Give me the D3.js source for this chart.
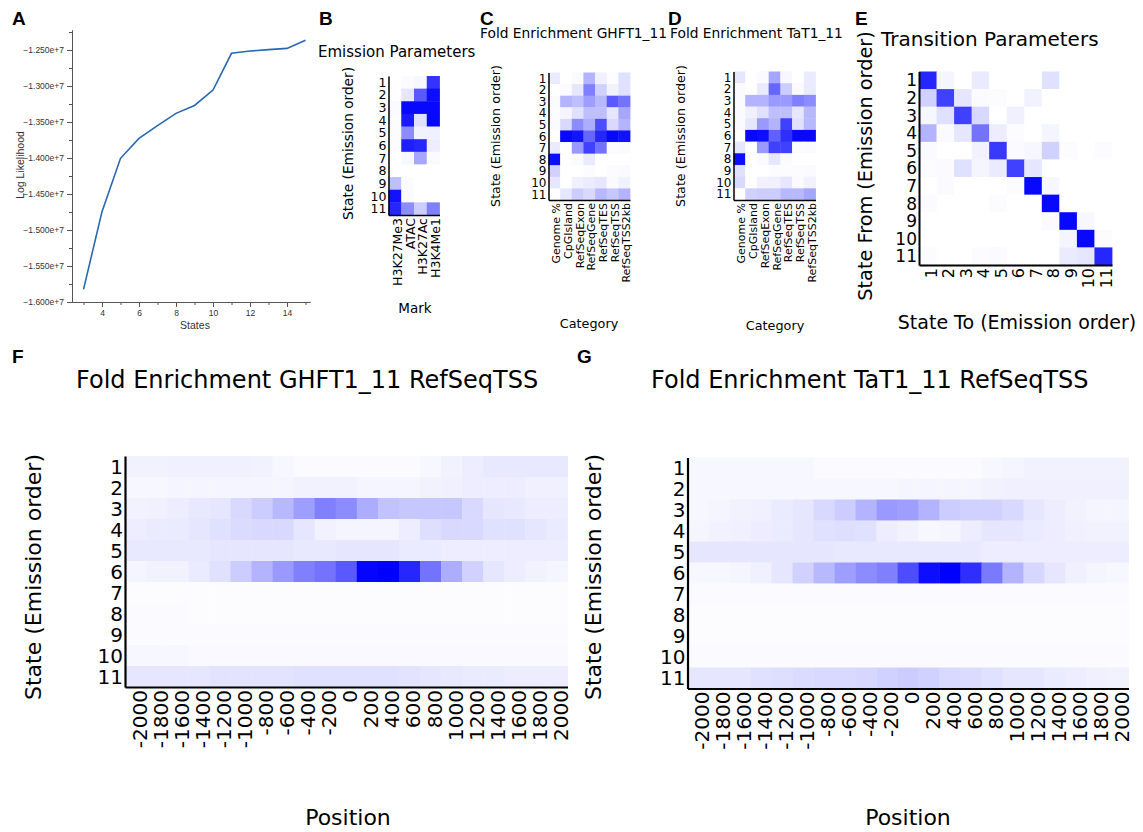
<!DOCTYPE html>
<html><head><meta charset="utf-8">
<script src="https://cdn.jsdelivr.net/npm/d3@7"></script>
<style>body{margin:0;background:#fff} svg{display:block} .hm text{font-family:"DejaVu Sans";fill:#000}</style>
</head><body>
<svg id="c" width="1143" height="832"></svg>
<script>
// ---------- DATA ----------
const llStates = [3,4,5,6,7,8,9,10,11,12,13,14,15];
const llValues = [-1.5824e7,-1.4745e7,-1.4004e7,-1.3727e7,-1.3550e7,-1.3380e7,-1.3270e7,-1.3056e7,-1.2546e7,-1.2514e7,-1.2495e7,-1.2477e7,-1.2365e7];
const llXTicks = [4,6,8,10,12,14];
const llYTicks = [-1.6e7,-1.55e7,-1.5e7,-1.45e7,-1.4e7,-1.35e7,-1.3e7,-1.25e7];

const states = ["1","2","3","4","5","6","7","8","9","10","11"];
const marks = ["H3K27Me3","ATAC","H3K27Ac","H3K4Me1"];
const categories = ["Genome %","CpGIsland","RefSeqExon","RefSeqGene","RefSeqTES","RefSeqTSS","RefSeqTSS2kb"];
const positions = ["-2000","-1800","-1600","-1400","-1200","-1000","-800","-600","-400","-200","0","200","400","600","800","1000","1200","1400","1600","1800","2000"];

const emission = [
 [0.00,0.02,0.03,0.80],
 [0.00,0.10,0.65,0.95],
 [0.02,0.97,0.97,0.97],
 [0.01,0.90,0.12,0.97],
 [0.01,0.45,0.05,0.06],
 [0.01,0.88,0.85,0.07],
 [0.00,0.03,0.35,0.02],
 [0.00,0.00,0.00,0.00],
 [0.25,0.01,0.00,0.00],
 [0.93,0.02,0.00,0.00],
 [0.85,0.45,0.20,0.50]
];
const enrichGHFT = [
 [0.08,0.00,0.02,0.30,0.06,0.01,0.12],
 [0.00,0.02,0.10,0.50,0.18,0.05,0.12],
 [0.02,0.30,0.25,0.38,0.28,0.65,0.55],
 [0.01,0.04,0.12,0.25,0.25,0.10,0.35],
 [0.02,0.15,0.45,0.32,0.70,0.15,0.30],
 [0.00,0.97,0.92,0.60,0.85,0.97,0.93],
 [0.08,0.00,0.40,0.75,0.55,0.01,0.02],
 [0.95,0.00,0.02,0.08,0.00,0.00,0.00],
 [0.18,0.00,0.00,0.01,0.00,0.01,0.02],
 [0.10,0.00,0.06,0.08,0.10,0.02,0.05],
 [0.00,0.10,0.20,0.15,0.28,0.22,0.30]
];
const enrichTaT = [
 [0.10,0.00,0.02,0.35,0.03,0.00,0.08],
 [0.02,0.00,0.08,0.60,0.20,0.02,0.08],
 [0.02,0.30,0.30,0.40,0.40,0.50,0.45],
 [0.02,0.06,0.12,0.25,0.25,0.10,0.28],
 [0.02,0.10,0.40,0.30,0.75,0.12,0.28],
 [0.00,0.97,0.95,0.62,0.82,0.97,0.97],
 [0.10,0.00,0.40,0.75,0.75,0.01,0.02],
 [0.95,0.00,0.02,0.10,0.02,0.00,0.00],
 [0.12,0.00,0.00,0.01,0.01,0.01,0.02],
 [0.15,0.00,0.05,0.06,0.10,0.02,0.05],
 [0.00,0.18,0.20,0.20,0.28,0.28,0.35]
];
const transition = [
 [0.85,0.04,0.00,0.08,0.00,0.00,0.00,0.12,0.00,0.00,0.00],
 [0.18,0.75,0.10,0.02,0.01,0.00,0.05,0.00,0.00,0.00,0.00],
 [0.03,0.12,0.75,0.15,0.00,0.06,0.00,0.00,0.00,0.00,0.00],
 [0.30,0.02,0.10,0.55,0.07,0.01,0.00,0.04,0.00,0.00,0.00],
 [0.02,0.00,0.00,0.05,0.78,0.02,0.03,0.18,0.01,0.00,0.01],
 [0.01,0.02,0.12,0.04,0.08,0.75,0.10,0.00,0.00,0.00,0.00],
 [0.00,0.02,0.00,0.00,0.00,0.01,0.97,0.03,0.00,0.00,0.00],
 [0.02,0.00,0.00,0.00,0.01,0.00,0.00,0.97,0.00,0.00,0.00],
 [0.00,0.00,0.00,0.00,0.00,0.00,0.00,0.02,0.97,0.03,0.00],
 [0.00,0.00,0.00,0.00,0.00,0.00,0.00,0.00,0.04,0.97,0.01],
 [0.01,0.00,0.00,0.01,0.02,0.00,0.00,0.00,0.08,0.10,0.85]
];
const tssGHFT = [
 [0.05,0.05,0.06,0.06,0.06,0.06,0.05,0.03,0.02,0.02,0.02,0.02,0.02,0.02,0.03,0.05,0.07,0.09,0.09,0.09,0.09],
 [0.03,0.03,0.04,0.04,0.04,0.04,0.04,0.04,0.05,0.05,0.05,0.04,0.04,0.04,0.05,0.06,0.07,0.07,0.07,0.06,0.06],
 [0.05,0.06,0.07,0.09,0.10,0.15,0.20,0.28,0.38,0.50,0.45,0.32,0.24,0.22,0.22,0.22,0.15,0.10,0.09,0.07,0.07],
 [0.07,0.08,0.08,0.10,0.12,0.14,0.15,0.15,0.10,0.05,0.04,0.04,0.04,0.07,0.13,0.15,0.15,0.12,0.12,0.10,0.08],
 [0.09,0.09,0.09,0.09,0.10,0.10,0.10,0.10,0.09,0.09,0.10,0.10,0.10,0.08,0.08,0.07,0.07,0.07,0.07,0.07,0.07],
 [0.04,0.05,0.05,0.08,0.12,0.20,0.30,0.40,0.50,0.55,0.65,0.98,1.00,0.85,0.55,0.32,0.18,0.10,0.07,0.05,0.04],
 [0.01,0.01,0.01,0.01,0.01,0.01,0.01,0.01,0.01,0.01,0.01,0.01,0.01,0.01,0.01,0.01,0.01,0.01,0.01,0.01,0.01],
 [0.015,0.015,0.015,0.01,0.01,0.01,0.01,0.01,0.01,0.01,0.01,0.01,0.01,0.01,0.01,0.01,0.01,0.01,0.01,0.01,0.01],
 [0.015,0.015,0.02,0.02,0.02,0.02,0.02,0.02,0.02,0.015,0.015,0.015,0.015,0.015,0.015,0.015,0.015,0.015,0.015,0.015,0.015],
 [0.03,0.03,0.03,0.025,0.025,0.025,0.025,0.025,0.025,0.025,0.025,0.025,0.025,0.025,0.025,0.025,0.025,0.025,0.025,0.025,0.025],
 [0.10,0.10,0.10,0.10,0.11,0.11,0.11,0.11,0.12,0.12,0.12,0.12,0.12,0.11,0.10,0.09,0.08,0.08,0.07,0.07,0.07]
];
const tssTaT = [
 [0.03,0.03,0.03,0.03,0.03,0.03,0.02,0.02,0.02,0.02,0.02,0.02,0.02,0.02,0.03,0.04,0.05,0.05,0.05,0.05,0.05],
 [0.03,0.03,0.03,0.03,0.03,0.03,0.03,0.03,0.03,0.03,0.04,0.04,0.04,0.04,0.05,0.06,0.06,0.06,0.06,0.06,0.06],
 [0.03,0.04,0.05,0.06,0.08,0.10,0.15,0.20,0.30,0.40,0.38,0.30,0.20,0.18,0.18,0.15,0.10,0.07,0.05,0.04,0.04],
 [0.04,0.05,0.06,0.07,0.08,0.10,0.12,0.13,0.12,0.07,0.05,0.03,0.04,0.07,0.10,0.10,0.08,0.07,0.06,0.05,0.05],
 [0.10,0.10,0.10,0.10,0.10,0.10,0.10,0.09,0.09,0.09,0.09,0.09,0.09,0.09,0.07,0.07,0.07,0.07,0.07,0.07,0.07],
 [0.03,0.03,0.04,0.06,0.10,0.18,0.28,0.38,0.45,0.50,0.70,0.95,1.00,0.82,0.52,0.30,0.16,0.10,0.06,0.04,0.03],
 [0.015,0.015,0.015,0.015,0.015,0.015,0.015,0.015,0.015,0.015,0.015,0.015,0.015,0.015,0.015,0.015,0.015,0.015,0.015,0.015,0.015],
 [0.01,0.01,0.01,0.01,0.01,0.01,0.01,0.01,0.01,0.01,0.01,0.01,0.01,0.01,0.01,0.01,0.01,0.01,0.01,0.01,0.01],
 [0.01,0.01,0.01,0.01,0.01,0.01,0.01,0.01,0.01,0.01,0.01,0.01,0.01,0.01,0.01,0.01,0.01,0.01,0.01,0.01,0.01],
 [0.02,0.02,0.02,0.02,0.02,0.02,0.02,0.02,0.02,0.02,0.02,0.02,0.02,0.02,0.02,0.02,0.02,0.02,0.02,0.02,0.02],
 [0.10,0.10,0.10,0.12,0.13,0.14,0.15,0.15,0.16,0.18,0.20,0.18,0.15,0.14,0.12,0.10,0.10,0.08,0.07,0.06,0.05]
];

// ---------- DRAW ----------
const svg = d3.select("#c");
const color = d3.scaleLinear().domain([0,1]).range(["#ffffff","#0000ff"]).clamp(true);

// Panel letters
const letters = [["A",12,25],["B",319,25],["C",480,25],["D",668,25],["E",855,25],["F",12,363],["G",577,363]];
svg.selectAll("text.letter").data(letters).join("text").attr("class","letter")
  .attr("x",d=>d[1]).attr("y",d=>d[2]).text(d=>d[0])
  .style("font-family","'Liberation Sans',Arial,sans-serif").style("font-weight","bold").style("font-size","19px");

// Panel A
(function(){
  const g = svg.append("g");
  const x = d3.scaleLinear().domain([2.378,15.243]).range([72,310]);
  const y = d3.scaleLinear().domain([-1.6e7,-1.2222e7]).range([302,30]);
  const axCol = "#555";
  const xMajor = d3.axisBottom(x).tickValues(llXTicks).tickSize(5).tickSizeOuter(0).tickFormat(d3.format("d"));
  const xMinor = d3.axisBottom(x).tickValues(llStates.filter(s=>s%2===1)).tickSize(3).tickSizeOuter(0).tickFormat("");
  const yMajor = d3.axisLeft(y).tickValues(llYTicks).tickSize(5).tickSizeOuter(0).tickFormat(d3.format(".3e"));
  const yMinorVals = llYTicks.map(v=>v+0.025e7);
  const yMinor = d3.axisLeft(y).tickValues(yMinorVals).tickSize(3).tickSizeOuter(0).tickFormat("");
  [[xMinor,"x"],[xMajor,"x"],[yMinor,"y"],[yMajor,"y"]].forEach(([ax,t])=>{
    const a = g.append("g").attr("transform", t==="x"?"translate(0,302)":"translate(72,0)").call(ax);
    a.selectAll("path,line").attr("stroke",axCol);
    a.selectAll("text").style("font-family","'Liberation Sans',Arial,sans-serif").style("font-size","8.5px").attr("fill","#333");
  });
  g.append("path").datum(llStates.map((s,i)=>[s,llValues[i]]))
    .attr("fill","none").attr("stroke","#2a67b1").attr("stroke-width",1.6)
    .attr("d", d3.line().x(d=>x(d[0])).y(d=>y(d[1])));
  g.append("text").attr("transform","translate(24,165) rotate(-90)").attr("text-anchor","middle")
    .style("font-family","'Liberation Sans',Arial,sans-serif").style("font-size","10.5px").attr("fill","#333").text("Log Likelihood");
  g.append("text").attr("x",195).attr("y",329).attr("text-anchor","middle")
    .style("font-family","'Liberation Sans',Arial,sans-serif").style("font-size","10.5px").attr("fill","#333").text("States");
})();

function heatmap(c){
  const g = svg.append("g").attr("class","hm");
  const x = d3.scaleBand().domain(c.cols).range([c.x0,c.x1]);
  const y = d3.scaleBand().domain(c.rows).range([c.y0,c.y1]);
  const cells = [];
  c.values.forEach((row,i)=>row.forEach((v,j)=>cells.push({r:c.rows[i],c:c.cols[j],v})));
  g.selectAll("rect").data(cells).join("rect")
    .attr("x",d=>x(d.c)).attr("y",d=>y(d.r))
    .attr("width",x.bandwidth()+0.4).attr("height",y.bandwidth()+0.4)
    .attr("fill",d=>color(d.v));
  const ay = g.append("g").attr("transform",`translate(${c.x0},0)`).call(d3.axisLeft(y).tickSize(0).tickPadding(2));
  const ax = g.append("g").attr("transform",`translate(0,${c.y1})`).call(d3.axisBottom(x).tickSize(0));
  [ay,ax].forEach(a=>{a.select(".domain").attr("stroke","#000").attr("stroke-width",c.sw);});
  ay.selectAll("text").style("font-family","DejaVu Sans").style("font-size",c.rowFont+"px").attr("fill","#000").attr("dy","0.36em");
  ax.selectAll("text").style("font-family","DejaVu Sans").style("font-size",c.colFont+"px").attr("fill","#000")
    .attr("transform","rotate(-90)").attr("text-anchor","end").attr("x",-3).attr("y",0).attr("dy","0.55em");
  g.append("text").attr("x",c.tx).attr("y",c.ty).style("font-size",c.tf+"px").text(c.title);
  g.append("text").attr("transform",`translate(${c.ylx},${c.yly}) rotate(-90)`).attr("text-anchor","middle")
    .attr("dy","0.36em").style("font-size",c.ylf+"px").text(c.ylabel);
  g.append("text").attr("x",c.xlx).attr("y",c.xly).attr("text-anchor","middle")
    .attr("dy","0.36em").style("font-size",c.xlf+"px").text(c.xlabel);
}

heatmap({rows:states,cols:marks,values:emission,x0:388.5,x1:439.5,y0:76,y1:215,rowFont:12.5,colFont:12.5,sw:1.5,
  title:"Emission Parameters",tx:318,ty:57,tf:15,ylabel:"State (Emission order)",ylx:348,yly:143.5,ylf:13.7,
  xlabel:"Mark",xlx:415,xly:308,xlf:13.5});
heatmap({rows:states,cols:categories,values:enrichGHFT,x0:548.5,x1:630,y0:72.5,y1:200,rowFont:12,colFont:11,sw:1.5,
  title:"Fold Enrichment GHFT1_11",tx:480,ty:38,tf:13.8,ylabel:"State (Emission order)",ylx:495,yly:136,ylf:12.7,
  xlabel:"Category",xlx:589,xly:323,xlf:12.8});
heatmap({rows:states,cols:categories,values:enrichTaT,x0:733.5,x1:815.5,y0:71.5,y1:200,rowFont:12,colFont:11,sw:1.5,
  title:"Fold Enrichment TaT1_11",tx:670,ty:38,tf:13.8,ylabel:"State (Emission order)",ylx:680,yly:136,ylf:12.7,
  xlabel:"Category",xlx:775,xly:325,xlf:12.8});
heatmap({rows:states,cols:states,values:transition,x0:919,x1:1112,y0:71.5,y1:265,rowFont:17,colFont:16,sw:2,
  title:"Transition Parameters",tx:881,ty:46,tf:20,ylabel:"State From (Emission order)",ylx:865,yly:166,ylf:19.3,
  xlabel:"State To (Emission order)",xlx:1017,xly:322,xlf:19});
heatmap({rows:states,cols:positions,values:tssGHFT,x0:125,x1:567.5,y0:456,y1:687,rowFont:20,colFont:20,sw:2.2,
  title:"Fold Enrichment GHFT1_11 RefSeqTSS",tx:76,ty:388,tf:24,ylabel:"State (Emission order)",ylx:33,yly:577,ylf:22,
  xlabel:"Position",xlx:348,xly:817,xlf:22});
heatmap({rows:states,cols:positions,values:tssTaT,x0:687.5,x1:1128.5,y0:457.5,y1:688.5,rowFont:20,colFont:20,sw:2.2,
  title:"Fold Enrichment TaT1_11 RefSeqTSS",tx:651,ty:388,tf:24,ylabel:"State (Emission order)",ylx:593,yly:577,ylf:22,
  xlabel:"Position",xlx:908,xly:817,xlf:22});
</script>
</body></html>
